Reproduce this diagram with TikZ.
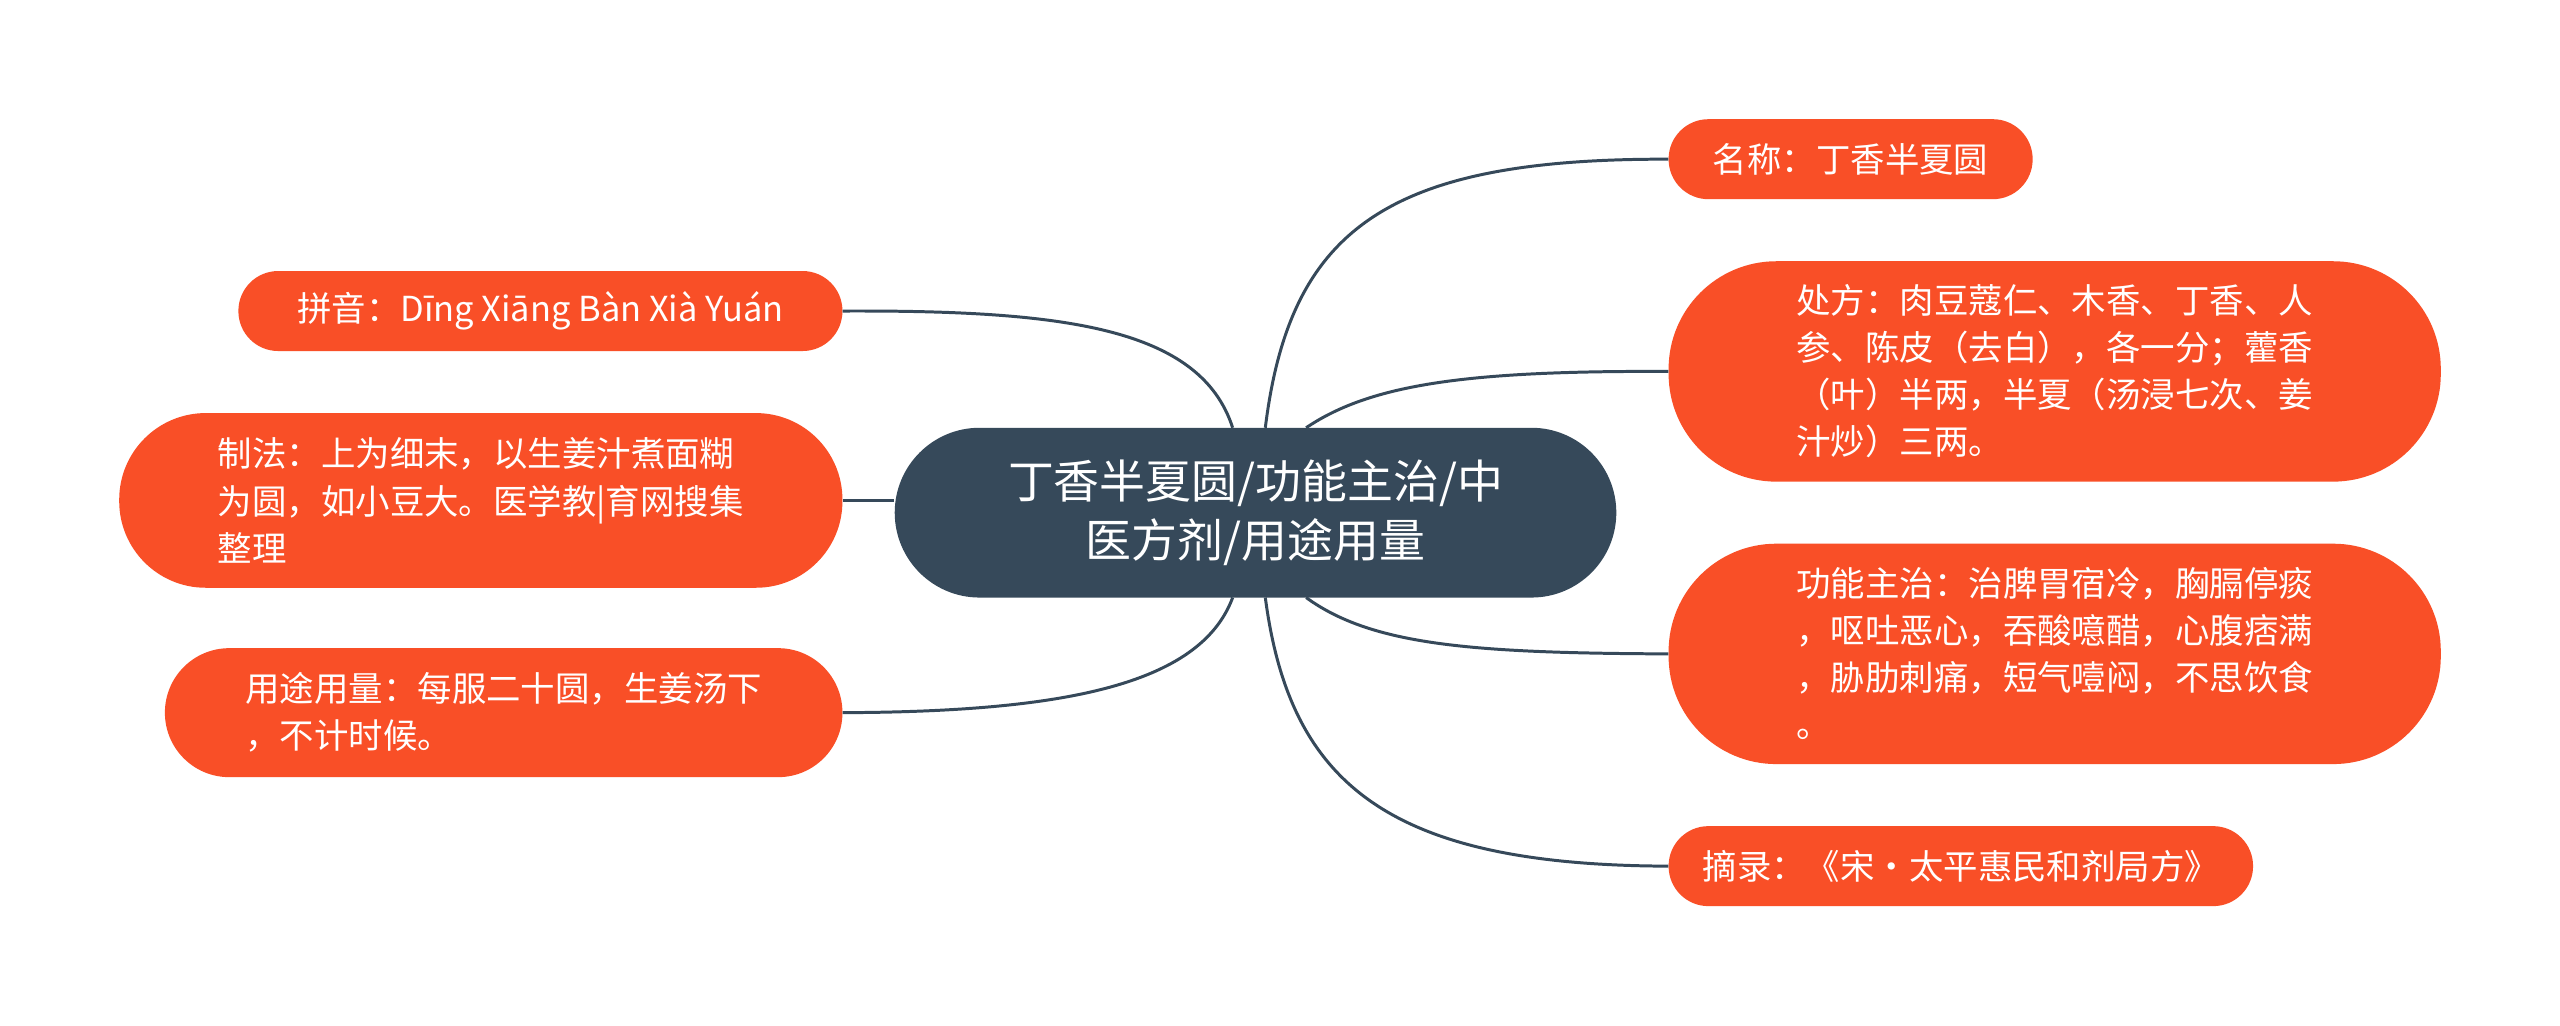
\documentclass[tikz,border=0pt]{standalone}
\usepackage{fontspec}
\setmainfont{Noto Sans CJK SC}
\definecolor{org}{HTML}{F94F27}
\definecolor{dk}{HTML}{36495A}
\begin{document}
\begin{tikzpicture}[x=0.05cm,y=-0.05cm,
  box/.style={fill=org,text=white,align=left,font=\fontsize{30}{41}\selectfont,inner sep=0pt},
  cen/.style={fill=dk,text=white,align=center,font=\fontsize{40}{52}\selectfont,inner sep=0pt,rounded corners=2.6cm,minimum width=22.1cm,minimum height=5.2cm},
  ln/.style={draw=dk,line width=2.6pt}]
\useasboundingbox[fill=white] (0,0) rectangle (1568,628);
\node[cen] (c) at (769,314) {丁香半夏圆/功能主治/中\\医方剂/用途用量};
\node[box,rounded corners=1.22cm,minimum width=11.15cm,minimum height=2.45cm] (n1) at (1133.5,97.5) {名称：丁香半夏圆};
\node[box,rounded corners=3.3cm,minimum width=23.65cm,minimum height=6.75cm] (n2) at (1258.5,227.5) {处方：肉豆蔻仁、木香、丁香、人\\参、陈皮（去白），各一分；藿香\\（叶）半两，半夏（汤浸七次、姜\\汁炒）三两。};
\node[box,rounded corners=3.3cm,minimum width=23.65cm,minimum height=6.75cm] (n3) at (1258.5,400.5) {功能主治：治脾胃宿冷，胸膈停痰\\，呕吐恶心，吞酸噫醋，心腹痞满\\，胁肋刺痛，短气噎闷，不思饮食\\。};
\node[box,rounded corners=1.22cm,minimum width=17.9cm,minimum height=2.45cm] (n4) at (1201,530.5) {摘录：《宋·太平惠民和剂局方》};
\node[box,rounded corners=1.22cm,minimum width=18.5cm,minimum height=2.45cm] (l1) at (331,190.5) {拼音：Dīng Xiāng Bàn Xià Yuán};
\node[box,rounded corners=2.65cm,minimum width=22.15cm,minimum height=5.35cm] (l2) at (294.5,306.5) {制法：上为细末，以生姜汁煮面糊\\为圆，如小豆大。医学教|育网搜集\\整理};
\node[box,rounded corners=1.97cm,minimum width=20.75cm,minimum height=3.95cm] (l3) at (308.5,436.5) {用途用量：每服二十圆，生姜汤下\\，不计时候。};
\coordinate (a1) at (775,262); \coordinate (a2) at (800,262);
\coordinate (a3) at (800,366); \coordinate (a4) at (775,366);
\coordinate (b1) at (755,262); \coordinate (b3) at (755,366);
\draw[ln] (a1) .. controls (790,140) and (850,97) .. (n1.west);
\draw[ln] (a2) .. controls (840,235) and (900,227) .. (n2.west);
\draw[ln] (a3) .. controls (840,395) and (900,400) .. (n3.west);
\draw[ln] (a4) .. controls (790,480) and (850,530) .. (n4.west);
\draw[ln] (b1) .. controls (735,200) and (650,190) .. (l1.east);
\draw[ln] (l2.east) -- (l2.east -| c.west);
\draw[ln] (b3) .. controls (735,420) and (650,436) .. (l3.east);
\end{tikzpicture}
\end{document}
